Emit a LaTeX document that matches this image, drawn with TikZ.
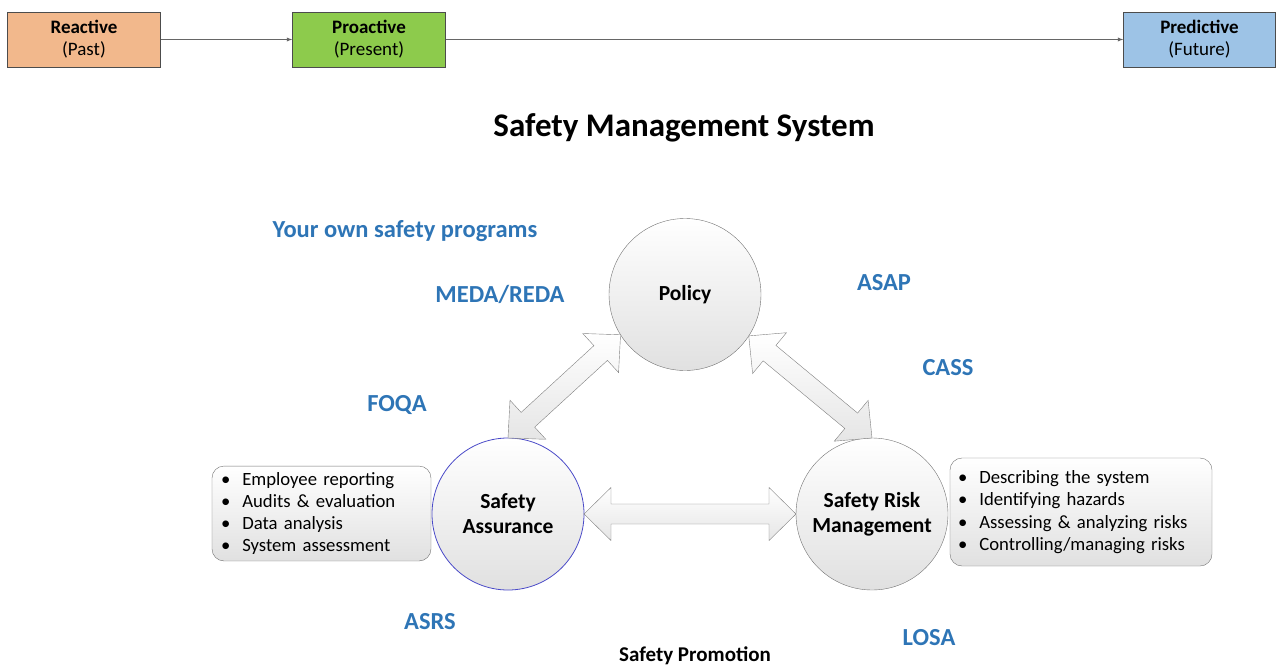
\documentclass[tikz,border=0pt]{standalone}
\usepackage{fontspec}
\setmainfont{Carlito}
\usetikzlibrary{positioning,arrows.meta,calc}
\tikzset{>=latex}

\definecolor{progblue}{HTML}{2E75B6}
\definecolor{pastfill}{HTML}{F2B88C}
\definecolor{nowfill}{HTML}{8DCB4C}
\definecolor{futfill}{HTML}{9DC3E6}
\definecolor{sacircle}{HTML}{4A4AC8}

\tikzset{
  stage/.style={rectangle,draw=black!70,minimum width=153pt,minimum height=55pt,inner sep=0pt,align=center,font=\fontsize{19}{22}\selectfont},
  element/.style={circle,draw=black!55,minimum size=152pt,inner sep=0pt,outer sep=0pt,top color=white,bottom color=black!12,align=center,font=\bfseries\fontsize{21.5}{25}\selectfont},
  program/.style={text=progblue,font=\bfseries\fontsize{24.5}{28}\selectfont},
  tasks/.style={rectangle,rounded corners=12pt,draw=black!55,top color=white,bottom color=black!12,align=left,inner ysep=6pt,font=\fontsize{18.7}{22.3}\selectfont},
  blockarrow/.style={draw=black!50,top color=white,bottom color=black!10,line join=miter},
  timeline/.style={->,draw=black!60,line width=0.9pt}
}

% bullet item
\newcommand{\itm}{\textbullet\hspace{12pt}}
% double block arrow between two anchors
\newcommand{\dblarrow}[2]{%
  \draw[blockarrow] let \p1=(#1), \p2=(#2), \n1={atan2(\y2-\y1,\x2-\x1)}, \n2={veclen(\x2-\x1,\y2-\y1)} in
    [shift={(\p1)},rotate=\n1]
    (0,0) -- (27,26.5) -- (27,10) -- ({\n2-27},10) -- ({\n2-27},26.5) -- (\n2,0)
    -- ({\n2-27},-26.5) -- ({\n2-27},-10) -- (27,-10) -- (27,-26.5) -- cycle;}

\begin{document}
\begin{tikzpicture}[x=1pt,y=-1pt]
\useasboundingbox (0,0) rectangle (1276,666);

% time line
\node[stage,fill=pastfill] (past) at(84,39.5){\textbf{Reactive}\\(Past)};
\node[stage,fill=nowfill] (present) at(369,39.5){\textbf{Proactive}\\(Present)};
\node[stage,fill=futfill,minimum width=152pt] (future) at(1199.5,39.5){\textbf{Predictive}\\(Future)};

\draw[timeline] (past) -- (present);
\draw[timeline] (present) -- (future);

\node[font=\bfseries\fontsize{33}{38}\selectfont] (title) at(684,128){Safety Management System};

% the three elements
\node[element] (policy) at(685,294.5){Policy};
\node[element,draw=sacircle,line width=0.8pt] (assurance) at(508,514){Safety\\Assurance};
\node[element] (risk) at(872,514){Safety Risk\\Management};

\dblarrow{assurance.north}{policy.212}
\dblarrow{policy.327}{risk.north}
\dblarrow{assurance.east}{risk.west}

\node[tasks,text width=201pt,inner xsep=9pt] (satasks) at(321.5,513.5){\itm Employee reporting\\\itm Audits \& evaluation\\\itm Data analysis\\\itm System assessment};
\node[tasks,text width=246pt,inner xsep=8pt,minimum height=108pt] (srmtasks) at(1081,512){\itm Describing the system\\\itm Identifying hazards\\\itm Assessing \& analyzing risks\\\itm Controlling/managing risks};

% programs
\node[program] (own) at(405,231){Your own safety programs};
\node[program] (meda) at(500,294){MEDA/REDA};
\node[program] (asap) at(884,283){ASAP};
\node[program] (cass) at(948,368){CASS};
\node[program] (foqa) at(397,405){FOQA};
\node[program] (asrs) at(430,622){ASRS};
\node[program] (losa) at(929,638){LOSA};

\node[font=\bfseries\fontsize{21}{24}\selectfont] (promotion) at(695,656){Safety Promotion};

\end{tikzpicture}
\end{document}
